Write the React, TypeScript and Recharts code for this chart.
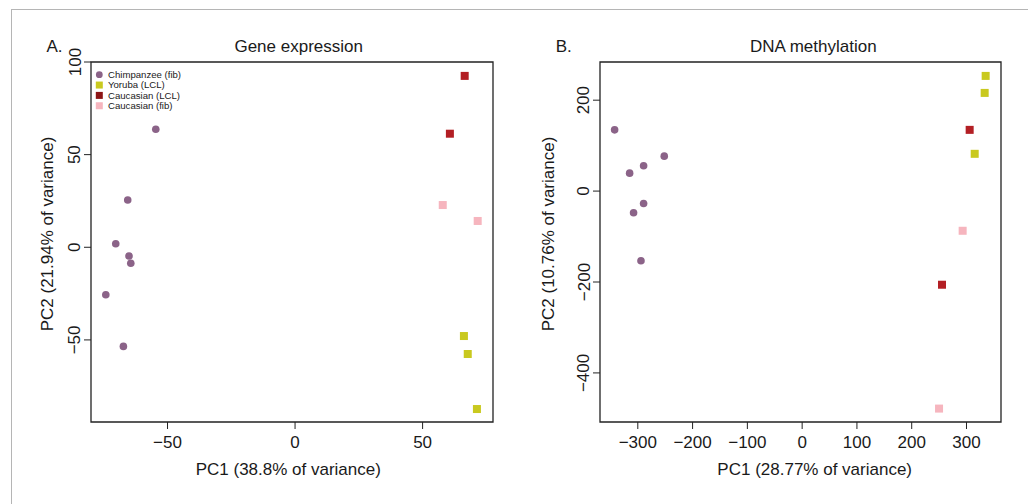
import React from 'react';
import {
  Label,
  Legend,
  ReferenceArea,
  Scatter,
  ScatterChart,
  XAxis,
  YAxis,
} from 'recharts';

const FONT = '"Liberation Sans", Arial, Helvetica, sans-serif';
const INK = '#1a1a1a';

// groups shared by both panels
const GROUPS = ['Chimpanzee (fib)', 'Yoruba (LCL)', 'Caucasian (LCL)', 'Caucasian (fib)'];
const GROUP_COLORS = ['#8b6388', '#c9c91f', '#b31f24', '#f6b5be'];
const LEGEND_COLORS = ['#8b6388', '#c9c91f', '#8c1516', '#f6b5be'];
const GROUP_SHAPES = ['circle', 'square', 'square', 'square'];

// A. Gene expression (PC1, PC2)
const geChimpX = [-54.6, -65.6, -70.3, -65.1, -64.4, -74.2, -67.3];
const geChimpY = [63.7, 25.5, 1.9, -4.7, -8.6, -25.6, -53.5];
const geYorubaX = [66.2, 67.7, 71.3];
const geYorubaY = [-47.9, -57.6, -87.3];
const geCaucLclX = [66.5, 60.7];
const geCaucLclY = [92.5, 61.3];
const geCaucFibX = [57.9, 71.6];
const geCaucFibY = [22.8, 14.2];
const geXTicks = [-50, 0, 50];
const geYTicks = [-50, 0, 50, 100];

// B. DNA methylation (PC1, PC2)
const dmChimpX = [-342.3, -251.7, -289.4, -314.9, -289.4, -307.7, -294.2];
const dmChimpY = [134.7, 76.9, 55.6, 39.5, -27.3, -47.7, -153.2];
const dmYorubaX = [335, 333.2, 315];
const dmYorubaY = [253.4, 216, 82];
const dmCaucLclX = [305.8, 255.3];
const dmCaucLclY = [134.7, -206];
const dmCaucFibX = [293, 249.9];
const dmCaucFibY = [-87.3, -478.5];
const dmXTicks = [-300, -200, -100, 0, 100, 200, 300];
const dmYTicks = [-400, -200, 0, 200];

const zip = (xs: number[], ys: number[]) => xs.map((x, i) => ({ x, y: ys[i] }));

const geSeries = [
  zip(geChimpX, geChimpY),
  zip(geYorubaX, geYorubaY),
  zip(geCaucLclX, geCaucLclY),
  zip(geCaucFibX, geCaucFibY),
];
const dmSeries = [
  zip(dmChimpX, dmChimpY),
  zip(dmYorubaX, dmYorubaY),
  zip(dmCaucLclX, dmCaucLclY),
  zip(dmCaucFibX, dmCaucFibY),
];

const fmt = (v: number) => String(v).replace('-', '\u2212');

const XTick = (props: any) => {
  const { x, y, payload } = props;
  return (
    <text x={x} y={y} dy="0.71em" textAnchor="middle" fontSize={17} fontFamily={FONT} fill={INK}>
      {fmt(payload.value)}
    </text>
  );
};

const YTick = (props: any) => {
  const { x, y, payload } = props;
  return (
    <text
      x={x}
      y={y}
      transform={`rotate(-90 ${x} ${y})`}
      textAnchor="middle"
      fontSize={17}
      fontFamily={FONT}
      fill={INK}
    >
      {fmt(payload.value)}
    </text>
  );
};

const markShape = (kind: string) => (props: any) => {
  const { cx, cy, fill } = props;
  if (kind === 'circle') return <circle cx={cx} cy={cy} r={3.8} fill={fill} />;
  return <rect x={cx - 4} y={cy - 4} width={8} height={8} fill={fill} />;
};

const renderLegend = () => (
  <svg width={120} height={44} style={{ display: 'block' }}>
    {GROUPS.map((g, i) => {
      const cy = 6.7 + i * 10.35;
      return (
        <g key={g}>
          {GROUP_SHAPES[i] === 'circle' ? (
            <circle cx={7.3} cy={cy} r={3.4} fill={LEGEND_COLORS[i]} />
          ) : (
            <rect x={3.8} y={cy - 3.5} width={7} height={7} fill={LEGEND_COLORS[i]} />
          )}
          <text x={16} y={cy + 3.4} fontSize={9.6} fontFamily={FONT} fill={INK}>
            {g}
          </text>
        </g>
      );
    })}
  </svg>
);

type PanelProps = {
  left: number;
  width: number;
  plotLeft: number;
  plotRight: number;
  xDomain: [number, number];
  yDomain: [number, number];
  xTicks: number[];
  yTicks: number[];
  series: { x: number; y: number }[][];
  letter: string;
  letterX: number;
  title: string;
  titleX: number;
  xLabel: string;
  xLabelX: number;
  yLabel: string;
  yLabelX: number;
  showLegend?: boolean;
};

const Panel = (p: PanelProps) => (
  <div style={{ position: 'absolute', left: p.left, top: 0, width: p.width, height: 504 }}>
    <ScatterChart
      width={p.width}
      height={504}
      margin={{ top: 62, right: p.width - p.plotRight, bottom: 0, left: 0 }}
    >
      <XAxis
        type="number"
        dataKey="x"
        domain={p.xDomain}
        ticks={p.xTicks}
        interval={0}
        allowDataOverflow
        axisLine={false}
        tickLine={{ stroke: '#222', strokeWidth: 1 }}
        tickSize={7}
        tickMargin={7}
        tick={XTick}
        height={82}
      >
        <Label
          content={() => (
            <text x={p.xLabelX} y={475} textAnchor="middle" fontSize={17} fontFamily={FONT} fill={INK}>
              {p.xLabel}
            </text>
          )}
        />
      </XAxis>
      <YAxis
        type="number"
        dataKey="y"
        domain={p.yDomain}
        ticks={p.yTicks}
        interval={0}
        allowDataOverflow
        axisLine={false}
        tickLine={{ stroke: '#222', strokeWidth: 1 }}
        tickSize={7}
        tickMargin={3.5}
        tick={YTick}
        width={p.plotLeft}
      >
        <Label
          content={() => (
            <text
              x={p.yLabelX}
              y={234}
              transform={`rotate(-90 ${p.yLabelX} 234)`}
              textAnchor="middle"
              fontSize={17}
              fontFamily={FONT}
              fill={INK}
            >
              {p.yLabel}
            </text>
          )}
        />
      </YAxis>
      {p.series.map((pts, i) => (
        <Scatter
          key={GROUPS[i]}
          name={GROUPS[i]}
          data={pts}
          fill={GROUP_COLORS[i]}
          shape={markShape(GROUP_SHAPES[i])}
          isAnimationActive={false}
        />
      ))}
      <ReferenceArea
        x1={p.xDomain[0]}
        x2={p.xDomain[1]}
        y1={p.yDomain[0]}
        y2={p.yDomain[1]}
        fill="none"
        stroke="#222"
        strokeWidth={1.3}
        ifOverflow="visible"
      />
      {p.showLegend && (
        <Legend
          layout="vertical"
          align="center"
          verticalAlign="middle"
          wrapperStyle={{ left: p.plotLeft + 1, top: 68, width: 120, height: 44 }}
          content={renderLegend}
        />
      )}
    </ScatterChart>
    <svg
      width={p.width}
      height={60}
      style={{ position: 'absolute', left: 0, top: 0, pointerEvents: 'none' }}
    >
      <text x={p.letterX} y={52} fontSize={17} fontFamily={FONT} fill={INK}>
        {p.letter}
      </text>
      <text x={p.titleX} y={52} textAnchor="middle" fontSize={17} fontFamily={FONT} fill={INK}>
        {p.title}
      </text>
    </svg>
  </div>
);

export default function App() {
  return (
    <div
      style={{
        position: 'absolute',
        left: 0,
        top: 0,
        width: 1028,
        height: 504,
        background: '#fff',
        overflow: 'hidden',
      }}
    >
      <div
        style={{
          position: 'absolute',
          left: 11,
          top: 9,
          right: 0,
          bottom: 0,
          borderTop: '1px solid #b5b5b5',
          borderLeft: '1px solid #b5b5b5',
        }}
      />
      <Panel
        left={0}
        width={510}
        plotLeft={91}
        plotRight={493}
        xDomain={[-80, 77.6]}
        yDomain={[-94.3, 100]}
        xTicks={geXTicks}
        yTicks={geYTicks}
        series={geSeries}
        letter="A."
        letterX={46.5}
        title="Gene expression"
        titleX={298.7}
        xLabel="PC1 (38.8% of variance)"
        xLabelX={288.3}
        yLabel="PC2 (21.94% of variance)"
        yLabelX={53}
        showLegend
      />
      <Panel
        left={510}
        width={518}
        plotLeft={90}
        plotRight={491}
        xDomain={[-369, 363]}
        yDomain={[-508, 284]}
        xTicks={dmXTicks}
        yTicks={dmYTicks}
        series={dmSeries}
        letter="B."
        letterX={45.7}
        title="DNA methylation"
        titleX={303.3}
        xLabel="PC1 (28.77% of variance)"
        xLabelX={304.7}
        yLabel="PC2 (10.76% of variance)"
        yLabelX={43.5}
      />
    </div>
  );
}
